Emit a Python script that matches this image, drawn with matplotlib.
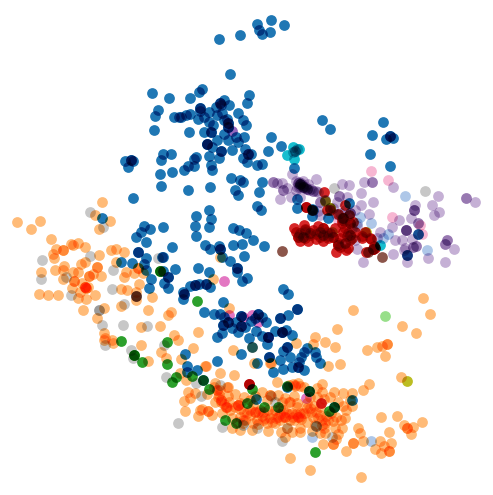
import numpy as np
import matplotlib
matplotlib.use("Agg")
import matplotlib.pyplot as plt
from matplotlib.backends.backend_agg import RendererAgg

blue = [(219,39),(240,35),(230,74),(152,93),(169,98),(190,98),(199,92),(202,89),(249,95),(247,103),(158,110),(155,116),(174,117),(179,117),(181,117),(186,115),(190,114),(200,108),(200,108),(200,111),(198,119),(209,112),(204,117),(209,122),(213,125),(217,115),(216,107),(220,103),(220,103),(221,105),(224,100),(229,105),(222,113),(238,113),(243,120),(246,125),(227,119),(228,123),(228,123),(228,127),(228,127),(224,120),(154,130),(189,132),(204,132),(211,132),(211,132),(224,134),(228,140),(217,140),(236,137),(244,137),(238,142),(207,144),(207,144),(207,144),(212,147),(221,151),(221,151),(232,150),(245,149),(248,154),(248,154),(243,158),(247,162),(209,156),(219,158),(163,154),(171,154),(161,160),(125,161),(131,160),(131,160),(133,161),(128,167),(196,157),(194,159),(194,166),(188,166),(184,170),(211,165),(212,170),(160,174),(172,172),(161,186),(188,190),(210,187),(231,178),(240,180),(243,182),(235,190),(238,195),(133,198),
(209,210),(196,216),(211,219),(195,226),(209,227),(196,236),(163,227),(144,226),(150,229),(141,232),(136,237),(146,242),(233,228),(239,230),(246,233),(172,247),(205,245),(210,249),(219,246),(220,249),(220,249),(233,245),(242,244),(102,218),
(138,252),(138,252),(146,258),(132,263),(121,262),(144,264),(146,270),(151,279),(149,288),(162,257),(163,257),(163,271),(168,277),(168,277),(164,283),(168,288),(175,269),(198,268),(209,272),(230,261),(244,256),(222,257),(237,268),(237,268),(237,272),(242,281),(247,278),
(183,292),(183,299),(184,294),(184,294),(190,286),(195,285),(195,285),(199,284),(206,284),(206,284),(210,287),(223,302),(204,312),(214,314),(220,314),(224,317),(228,322),(228,322),(223,325),(223,325),(232,328),(236,322),(241,316),(241,316),(238,332),(245,327),(222,333),(217,337),(241,326),(241,326),
(283,289),(288,294),(297,309),(297,309),(258,314),(258,314),(262,317),(255,318),(266,322),(251,321),(280,318),(280,318),(288,315),(256,331),(249,338),(275,331),(282,332),(282,332),(282,332),(286,330),(292,335),(268,337),(268,337),(262,336),(267,344),(252,347),(241,354),(269,357),(269,357),(280,360),(290,357),(287,347),(287,347),(283,351),(307,348),(304,352),(315,352),(316,357),(301,357),(299,362),(320,363),(298,367),(298,367),(292,367),(304,370),(283,369),(273,372),(257,363),(217,361),
(185,354),(187,366),(197,370),(187,372),(203,380),(256,399),(287,387),(309,391),(352,400),(334,407),
(322,120),(330,129),(383,122),(372,135),(386,139),(390,136),(390,136),(393,138),(370,154),(390,166),(271,137),(281,146),(268,151),(294,168),(262,182),(259,192),(257,206),(261,210),(253,240),(264,246),(257,165),(262,164),(251,154),(257,24),(271,20),(284,25),(259,30),(262,34),(270,32),(297,199),(297,208),(312,216),(328,218),(349,203),(312,209),(313,210),(418,234),(407,255)]

orange = [(102,202),(95,215),(110,221),(99,229),(17,222),(31,229),(40,221),(51,239),(56,249),(53,254),(54,258),(63,250),(63,250),(71,244),(73,245),(78,243),(85,247),(99,255),(111,250),(116,249),(124,252),(64,266),(63,270),(55,270),(41,272),(73,272),(78,272),(81,264),(85,262),(97,267),(97,267),(93,274),(89,276),(89,276),(101,276),(63,279),(74,281),(74,281),(82,283),(85,287),(85,287),(85,287),(86,288),(86,288),(88,287),(72,288),(80,292),(39,294),(48,295),(58,295),(95,295),(78,298),(86,299),(83,310),(116,262),(126,272),(124,277),(134,273),(138,268),(138,268),(143,273),(139,284),(121,289),(127,290),(136,292),(136,300),(152,297),(121,306),(148,310),(104,308),(97,318),(171,312),(168,315),(160,326),(141,327),(104,333),(104,340),(112,340),(174,335),(178,340),(198,332),(213,279),(220,257),(229,308),(105,338),(113,343),(141,345),(161,352),(166,358),(148,361),(193,348),(181,359),(206,366),(220,373),(234,375),(180,373),(186,380),(215,383),(188,392),(195,393),(190,398),(184,401),(227,387),(217,390),(217,390),(219,395),(221,400),(221,400),(226,407),(226,407),(235,394),(238,405),(238,405),(202,409),(208,411),(208,411),(198,416),(222,413),(277,382),(233,350),(252,347),(254,363),(270,363),(290,458),(285,437),
(247,413),(255,412),(263,420),(253,423),(243,423),(268,410),(276,418),(283,417),(292,413),(297,407),(290,402),(267,400),(295,385),
(423,298),(430,314),(353,310),(402,326),(416,333),(337,329),(315,337),(325,342),(335,347),(296,343),(313,344),(367,350),(377,347),(382,346),(387,344),(387,344),(385,356),(328,366),(340,364),(271,363),(205,366),(401,377),(369,384),(363,390),(381,417),(397,416),(422,422),(404,425),(407,428),(407,428),(413,427),(411,434),(389,432),(358,428),(360,433),(363,441),(353,443),(353,443),(380,441),(384,446),(391,443),(375,449),(381,453),(389,451),(389,451),(346,451),(333,444),(333,444),(336,439),(323,444),(310,470),(361,477),
(293,384),(300,386),(304,387),(317,388),(322,384),(334,392),(343,393),(352,393),(350,400),(343,406),(352,406),(324,399),(307,403),(297,403),(289,402),(270,395),(270,395),(250,400),(253,405),(238,405),(228,387),(220,390),(218,397),(221,402),(227,407),(235,407),(214,387),(207,394),(185,411),(200,410),(240,417),(245,420),(250,415),(255,412),(260,410),(265,418),(272,422),(275,410),(280,414),(285,417),(293,417),(298,417),(300,417),(303,413),(307,408),(313,417),(318,418),(322,420),(325,423),(324,428),(333,421),(328,420),(300,428),(287,428),(285,417),(280,420),(275,423),(267,423),(257,420),(243,420),(237,422),(315,425),(310,408),(320,407),(314,406),
(295,386),(298,383),(289,385),(300,413),(298,417),(296,414),(294,420),(301,419),(289,414),(286,412),(283,410),(280,408),(272,414),(262,416),(258,412),(250,410),(244,412),(240,409),(230,410),(232,418),(263,412),(270,418),(311,412),(316,412),(320,415),(326,416),(331,413),(336,417),(341,420),(345,418),(335,428),(307,422),(325,433),(322,425),(305,413),(258,424),(229,402),(224,404),(278,417),(290,420),
(282,402),(285,398),(278,395),(262,392),(255,396),(244,397),(240,403),(294,396),(317,397),(322,392),(330,397),(338,402),(346,410),(310,397),(300,432),(292,432),(281,432),(268,431),(252,430),(240,430),(232,428),(312,431),(320,433),(342,428),(338,434),(228,396),(215,402),(212,415)]

lightpurple = [(292,174),(273,182),(273,182),(277,183),(282,183),(283,190),(283,190),(280,199),(287,188),(316,179),(300,184),(300,184),(300,184),(300,184),(303,187),(303,187),(303,187),(307,189),(307,189),(307,189),(313,191),(313,191),(297,187),(291,197),(300,197),(342,184),(349,185),(364,182),(372,182),(372,182),(361,193),(339,196),(339,196),(347,197),(361,205),(373,202),(393,187),(438,196),(432,205),(439,212),(434,215),(466,198),(466,198),(475,202),(369,214),(392,227),(411,218),(399,220),(406,230),(406,230),(406,230),(406,230),(418,223),(418,223),(418,234),(412,239),(402,240),(395,240),(380,232),(377,238),(447,240),(447,240),(445,244),(445,244),(454,249),(405,248),(413,247),(413,247),(357,249),(320,202),(320,202),(325,200),(325,200),(333,208),(350,213),(350,213),(350,213),(340,213),(318,211),(355,210),(363,262),(393,254),(407,255),(407,255),(407,262),(428,258),(445,262),(416,246),(416,246),(404,250),(414,210),(414,210),(414,210),(415,205),
(298,183),(298,183),(299,182),(300,186),(301,183),(302,185),(304,187),(305,188),(306,187),(309,190),(311,189),(316,191),(318,192),(296,181),(299,187),(303,181),(308,184),(296,190),(336,214),(345,210),(342,218),(352,228),(357,226),(355,240),(345,243),(320,215),(337,202)]

red = [(296,232),(298,237),(298,237),(305,229),(303,237),(303,237),(310,233),(310,233),(320,232),(320,232),(323,228),(323,228),(323,235),(323,235),(333,237),(333,237),(330,233),(338,245),(338,245),(336,252),(348,248),(350,235),(350,235),(343,232),(362,238),(365,232),(371,239),(373,249),(373,249),(373,249),(343,218),(343,218),(343,218),(342,223),(350,223),(350,223),(324,192),(306,207),(306,207),(312,210),(327,210),(330,210),(345,205),(249,384),(249,384),(321,403),
(299,235),(300,233),(305,230),(305,232),(310,235),(305,238),(313,230),(316,234),(320,237),(327,232),(328,238),(328,236),(338,243),(340,247),(342,220),(344,221),(348,233),(347,236),(353,222),(350,240),(352,238),(345,228),(370,238),(374,246),(375,248),(362,236),
(300,241),(308,241),(316,239),(323,241),(294,228),(304,225),(318,226),(335,228),(340,238),(345,243),(355,232),(349,215),(338,214),(346,250),(366,252)]

cyan = [(293,147),(299,149),(295,151),(295,151),(287,155),(294,159),(293,152),(297,149),(380,245)]
grey = [(334,188),(425,191),(90,212),(103,227),(42,260),(41,279),(66,277),(90,256),(113,270),(158,258),(112,289),(71,295),(136,296),(136,296),(124,304),(99,310),(99,310),(102,325),(123,325),(147,326),(105,345),(131,350),(133,358),(164,345),(166,377),(196,383),(201,396),(220,385),(178,423),(222,427),(257,428),(282,441),(271,396),(275,402),(287,428),(332,437),(316,426)]
lightblue = [(405,196),(371,223),(360,217),(357,223),(388,234),(427,250),(312,437),(371,441),(243,425),(316,426),(383,238)]
pink = [(371,171),(388,180),(392,217),(422,234),(420,225),(338,220)]
green = [(121,341),(134,355),(134,355),(142,362),(167,342),(167,364),(176,377),(172,382),(192,376),(209,389),(252,389),(247,403),(264,407),(278,407),(225,420),(236,423),(287,386),(315,452),(329,411),(309,391),(334,407),(197,301),(160,271),(160,271),(203,380)]
lightgreen = [(385,316)]
olive = [(407,381),(366,232),(332,232),(330,208),(330,208),(325,201)]
brown = [(282,251),(382,257),(368,252),(136,296)]
magenta = [(224,281),(229,315),(243,317),(252,315),(258,322),(306,398),(268,337)]
violet = [(232,131)]

series = [(blue,"#1f77b4"),(orange,"#ffbb78"),(lightpurple,"#c5b0d5"),(red,"#d62728"),(cyan,"#17becf"),(grey,"#c7c7c7"),(lightblue,"#aec7e8"),(pink,"#f7b6d2"),(green,"#2ca02c"),(lightgreen,"#98df8a"),(olive,"#bcbd22"),(brown,"#8c564b"),(magenta,"#e377c2"),(violet,"#9467bd")]

fig = plt.figure(figsize=(4.93,4.95),dpi=100)
ax = fig.add_axes([0,0,1,1])
ax.set_xlim(0,493); ax.set_ylim(495,0); ax.axis("off")

def multiply(coll):
    base = coll.draw
    def draw(renderer):
        pts = np.asarray(coll.get_offsets()).copy()
        W,H = int(renderer.width),int(renderer.height)
        canvas = np.asarray(renderer.buffer_rgba()).astype(float)/255
        for p in pts:
            coll.set_offsets([p])
            s = RendererAgg(W,H,renderer.dpi)
            base(s)
            a = np.asarray(s.buffer_rgba()).astype(float)/255
            canvas[...,:3] *= 1-a[...,3:]+a[...,3:]*a[...,:3]
        coll.set_offsets(pts)
        gc = renderer.new_gc()
        renderer.draw_image(gc,0,0,(canvas[::-1]*255).astype(np.uint8))
        gc.restore()
    coll.draw = draw

for pts,c in series:
    arr = np.array(pts)
    multiply(ax.scatter(arr[:,0],arr[:,1],s=60,c=c,linewidths=0,antialiaseds=False))
fig.savefig("out.png",dpi=100,facecolor="white")
